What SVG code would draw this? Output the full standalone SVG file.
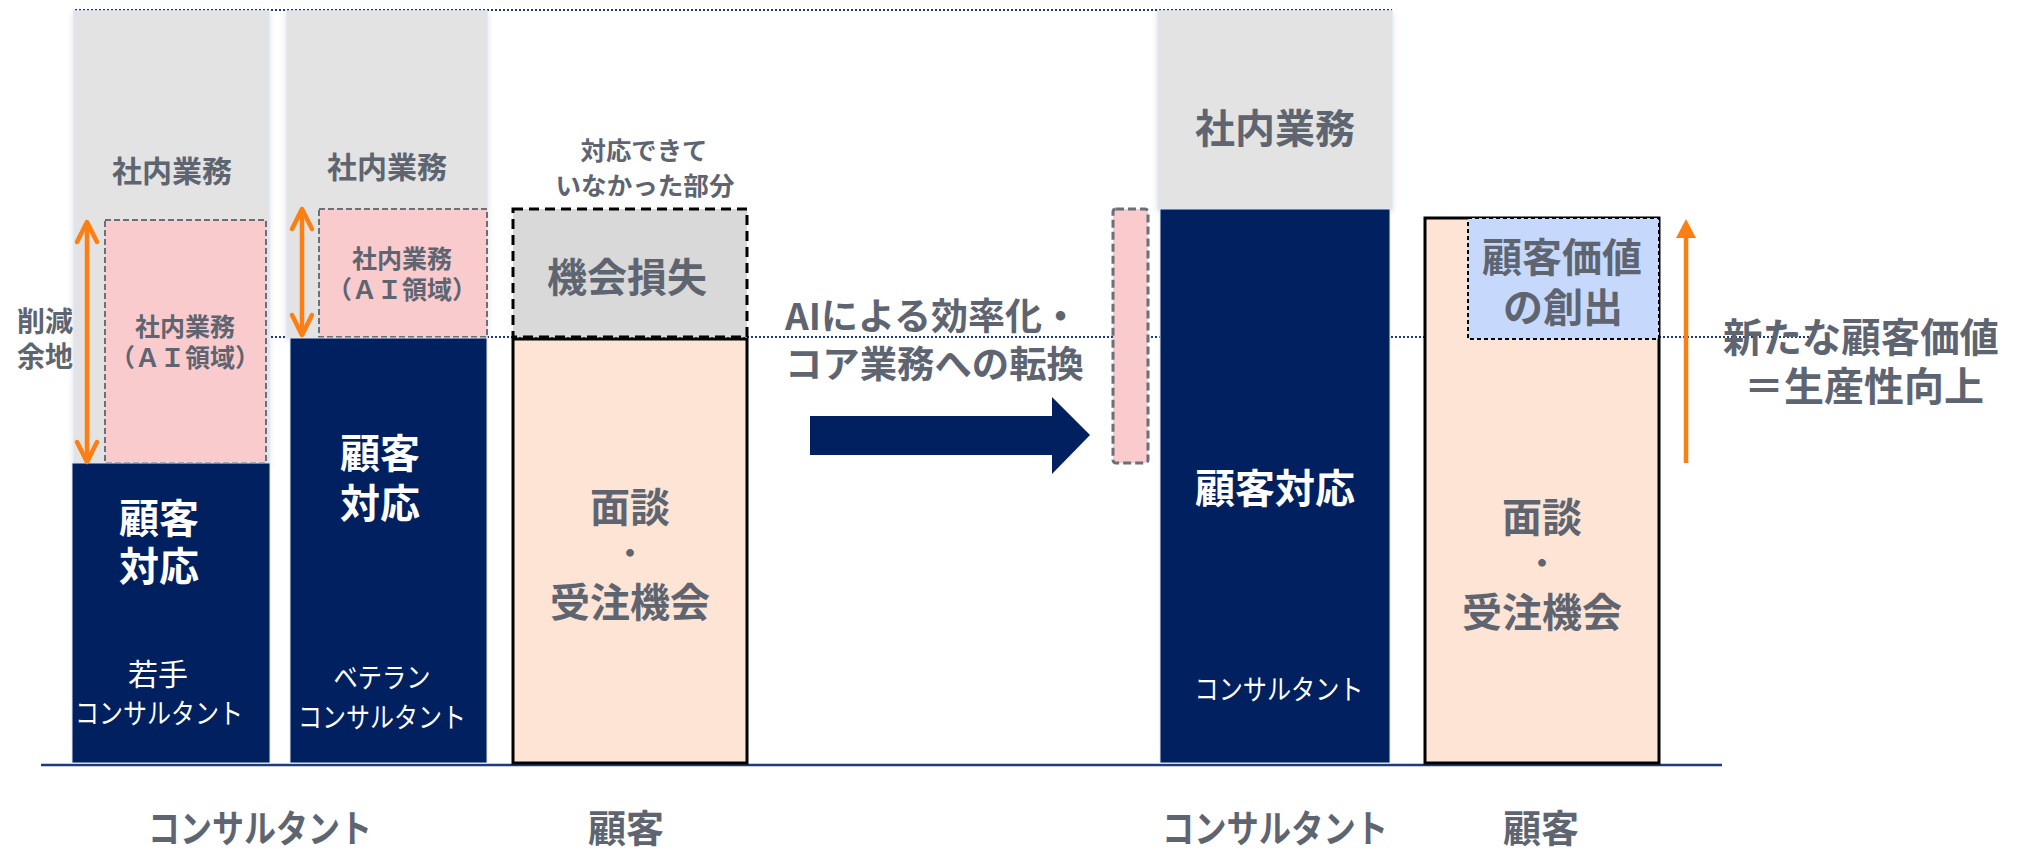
<svg xmlns="http://www.w3.org/2000/svg" width="2020" height="852" viewBox="0 0 2020 852">
<defs>
<style>
.t{font-family:"Noto Sans CJK JP","Noto Sans",sans-serif;font-weight:700;fill:#5e6571;text-anchor:middle}
.w{font-family:"Noto Sans CJK JP","Noto Sans",sans-serif;fill:#ffffff;text-anchor:middle}
.wb{font-weight:700}
.gray{fill:#e3e3e3;stroke:#dde6f3;stroke-width:1.5}
.navy{fill:#002060;stroke:#dde6f3;stroke-width:1}
.pink{fill:#f9cbcd;stroke:#6b6f76;stroke-width:2;stroke-dasharray:6 3}
.peach{fill:#fde4d4;stroke:#000000;stroke-width:3}
.dot{stroke:#1f3a7a;stroke-width:2;stroke-dasharray:2 2;fill:none}
.or{stroke:#fd7f14;stroke-width:4.5;fill:none;stroke-linecap:round;stroke-linejoin:round}
</style>
<filter id="sh" x="-10%" y="-10%" width="120%" height="120%">
<feDropShadow dx="0" dy="2" stdDeviation="3" flood-color="#000" flood-opacity="0.12"/>
</filter>
</defs>
<rect width="2020" height="852" fill="#ffffff"/>

<g id="guides">
<line class="dot" x1="75" y1="10" x2="1392" y2="10"/>
<line class="dot" x1="267" y1="337" x2="1813" y2="337"/>
<line x1="41" y1="765" x2="1722" y2="765" stroke="#1f3a7a" stroke-width="2.5"/>
</g>

<g id="young-consultant">
<rect class="gray" x="74" y="11" width="195" height="452" filter="url(#sh)"/>
<text class="t" x="172" y="182" font-size="30">社内業務</text>
<rect class="pink" x="105" y="220" width="161" height="243"/>
<text class="t" x="185" y="336" font-size="25">社内業務</text>
<text class="t" x="185" y="367" font-size="25">（ＡＩ領域）</text>
<rect class="navy" x="72" y="463" width="198" height="300"/>
<text class="w wb" x="159" y="533" font-size="40">顧客</text>
<text class="w wb" x="159" y="581" font-size="40">対応</text>
<text class="w" x="158" y="685" font-size="30">若手</text>
<text class="w" x="159" y="724" font-size="28" textLength="168" lengthAdjust="spacingAndGlyphs">コンサルタント</text>
</g>

<g id="reduction-label">
<text class="t" x="45" y="332" font-size="28">削減</text>
<text class="t" x="45" y="367" font-size="28">余地</text>
</g>

<g id="veteran-consultant">
<rect class="gray" x="287" y="11" width="200" height="327" filter="url(#sh)"/>
<text class="t" x="387" y="178" font-size="30">社内業務</text>
<rect class="pink" x="319" y="209" width="168" height="128"/>
<text class="t" x="402" y="268" font-size="25">社内業務</text>
<text class="t" x="402" y="299" font-size="25">（ＡＩ領域）</text>
<rect class="navy" x="290" y="338" width="197" height="425"/>
<text class="w wb" x="380" y="468" font-size="40">顧客</text>
<text class="w wb" x="380" y="518" font-size="40">対応</text>
<text class="w" x="382" y="688" font-size="28" textLength="97" lengthAdjust="spacingAndGlyphs">ベテラン</text>
<text class="w" x="382" y="728" font-size="28" textLength="168" lengthAdjust="spacingAndGlyphs">コンサルタント</text>
</g>

<g id="customer-before">
<text class="t" x="644" y="160" font-size="25" textLength="127" lengthAdjust="spacingAndGlyphs">対応できて</text>
<text class="t" x="645" y="195" font-size="25" textLength="179" lengthAdjust="spacingAndGlyphs">いなかった部分</text>
<rect x="513" y="209" width="234" height="128" fill="#d9d9d9" stroke="#000000" stroke-width="3" stroke-dasharray="10 6"/>
<text class="t" x="627" y="292" font-size="40">機会損失</text>
<rect class="peach" x="513" y="339" width="234" height="424"/>
<text class="t" x="630" y="522" font-size="40">面談</text>
<text class="t" x="630" y="564" font-size="30">・</text>
<text class="t" x="630" y="617" font-size="40">受注機会</text>
</g>

<g id="transition-label">
<text class="t" x="785" y="330" font-size="37" style="text-anchor:start" textLength="294" lengthAdjust="spacingAndGlyphs">AIによる効率化・</text>
<text class="t" x="785" y="378" font-size="37" style="text-anchor:start" textLength="299" lengthAdjust="spacingAndGlyphs">コア業務への転換</text>
</g>

<g id="consultant-after">
<rect x="1113" y="209" width="35" height="254" rx="3" fill="#f9cbcd" stroke="#6b6f76" stroke-width="3" stroke-dasharray="8 4"/>
<rect class="gray" x="1158" y="11" width="234" height="198" filter="url(#sh)"/>
<text class="t" x="1275" y="143" font-size="40">社内業務</text>
<rect class="navy" x="1160" y="209" width="230" height="554"/>
<text class="w wb" x="1275" y="503" font-size="40">顧客対応</text>
<text class="w" x="1279" y="700" font-size="28" textLength="169" lengthAdjust="spacingAndGlyphs">コンサルタント</text>
</g>

<g id="customer-after">
<rect class="peach" x="1425" y="218" width="234" height="545"/>
<rect x="1468" y="218" width="191" height="121" fill="#c6d9fd" stroke="#000000" stroke-width="2" stroke-dasharray="4 3"/>
<text class="t" x="1562" y="272" font-size="40">顧客価値</text>
<text class="t" x="1563" y="322" font-size="40">の創出</text>
<text class="t" x="1542" y="532" font-size="40">面談</text>
<text class="t" x="1542" y="574" font-size="30">・</text>
<text class="t" x="1542" y="627" font-size="40">受注機会</text>
</g>

<g id="value-label">
<text class="t" x="1861" y="352" font-size="40" textLength="276" lengthAdjust="spacingAndGlyphs">新たな顧客価値</text>
<text class="t" x="1864" y="401" font-size="40">＝生産性向上</text>
</g>

<g id="axis-labels">
<text class="t" x="260" y="842" font-size="38" textLength="224" lengthAdjust="spacingAndGlyphs">コンサルタント</text>
<text class="t" x="626" y="842" font-size="38">顧客</text>
<text class="t" x="1275" y="842" font-size="38" textLength="226" lengthAdjust="spacingAndGlyphs">コンサルタント</text>
<text class="t" x="1541" y="842" font-size="38">顧客</text>
</g>

<g id="connectors">
<line class="or" x1="87" y1="224" x2="87" y2="460"/>
<polyline class="or" points="77,242 87,222 97,242"/>
<polyline class="or" points="77,442 87,462 97,442"/>
<line class="or" x1="302" y1="211" x2="302" y2="333"/>
<polyline class="or" points="292,229 302,209 312,229"/>
<polyline class="or" points="292,315 302,335 312,315"/>
<polygon points="810,416 1052,416 1052,397 1090,435 1052,474 1052,455 810,455" fill="#002060"/>
<line x1="1686" y1="236" x2="1686" y2="463" stroke="#fd7f14" stroke-width="4.5"/>
<polygon points="1676,238 1686,219 1696,238" fill="#fd7f14"/>
</g>
</svg>
